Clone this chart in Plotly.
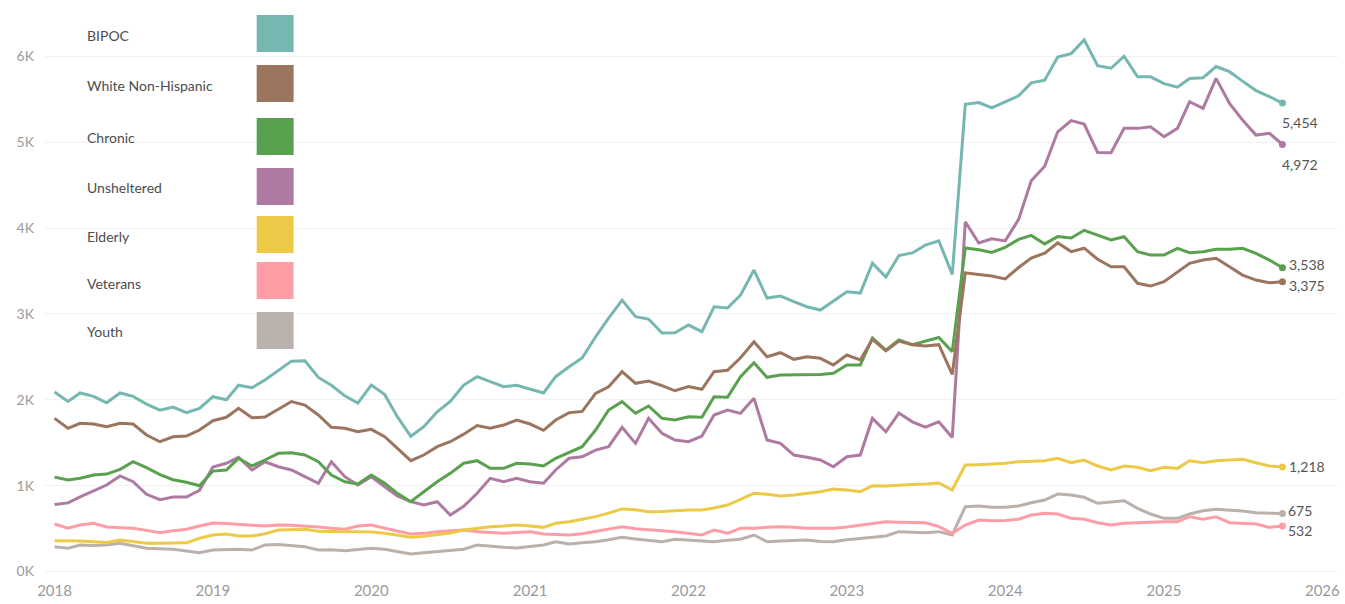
import pandas as pd
import plotly.graph_objects as go

# ---------------- data ----------------
months = pd.date_range("2018-01-01", "2025-10-01", freq="MS")

bipoc = [2090, 1980, 2080, 2040, 1965, 2080, 2040, 1950, 1880, 1915, 1850, 1900,
         2036, 2000, 2170, 2140, 2230, 2346, 2450, 2455, 2260, 2170, 2046, 1962,
         2172, 2060, 1803, 1575, 1687, 1861, 1980, 2172, 2269, 2211, 2152, 2170,
         2125, 2079, 2269, 2385, 2486, 2734, 2952, 3161, 2967, 2940, 2777, 2781,
         2870, 2793, 3083, 3068, 3220, 3511, 3185, 3208, 3142, 3083, 3045, 3153,
         3258, 3243, 3590, 3430, 3680, 3710, 3800, 3850, 3460, 5440, 5460, 5400,
         5470, 5540, 5690, 5720, 5990, 6030, 6190, 5890, 5860, 6000, 5760, 5760,
         5680, 5640, 5740, 5750, 5880, 5820, 5710, 5600, 5530, 5454]

white_non_hispanic = [1784, 1668, 1726, 1718, 1687, 1726, 1718, 1590, 1512, 1570, 1578, 1648,
                      1756, 1796, 1901, 1790, 1800, 1895, 1980, 1939, 1823, 1680, 1668, 1628,
                      1656, 1570, 1435, 1291, 1357, 1454, 1512, 1600, 1700, 1668, 1706, 1765,
                      1718, 1645, 1765, 1850, 1865, 2075, 2152, 2327, 2192, 2218, 2165, 2105,
                      2155, 2122, 2327, 2343, 2490, 2676, 2501, 2548, 2471, 2501, 2483, 2405,
                      2521, 2463, 2704, 2570, 2684, 2642, 2626, 2642, 2295, 3478, 3459, 3441,
                      3408, 3540, 3650, 3708, 3826, 3725, 3765, 3637, 3549, 3549, 3356, 3324,
                      3375, 3491, 3589, 3627, 3647, 3549, 3452, 3394, 3363, 3375]

chronic = [1100, 1066, 1086, 1124, 1135, 1190, 1279, 1210, 1130, 1070, 1040, 1000,
           1170, 1183, 1319, 1230, 1299, 1377, 1384, 1357, 1279, 1124, 1046, 1020,
           1124, 1028, 911, 814, 930, 1046, 1144, 1261, 1291, 1202, 1202, 1261,
           1252, 1229, 1319, 1384, 1454, 1648, 1881, 1978, 1843, 1928, 1784, 1765,
           1803, 1796, 2036, 2029, 2269, 2432, 2262, 2288, 2288, 2288, 2296, 2308,
           2405, 2405, 2720, 2579, 2696, 2642, 2684, 2725, 2561, 3767, 3746, 3715,
           3775, 3868, 3914, 3815, 3900, 3884, 3973, 3914, 3860, 3898, 3724, 3685,
           3685, 3763, 3712, 3724, 3752, 3752, 3763, 3705, 3627, 3538]

unsheltered = [780, 800, 870, 940, 1008, 1113, 1046, 900, 838, 868, 868, 946,
               1217, 1261, 1330, 1183, 1279, 1221, 1183, 1105, 1028, 1279, 1105, 1008,
               1105, 988, 880, 814, 775, 814, 659, 760, 911, 1086, 1046, 1086,
               1046, 1028, 1183, 1319, 1337, 1415, 1454, 1680, 1493, 1784, 1610, 1532,
               1512, 1578, 1823, 1881, 1842, 2017, 1532, 1493, 1357, 1330, 1299, 1221,
               1337, 1357, 1784, 1628, 1846, 1744, 1683, 1744, 1561, 4073, 3825, 3875,
               3850, 4100, 4550, 4720, 5120, 5250, 5210, 4880, 4876, 5160, 5160, 5179,
               5062, 5160, 5470, 5393, 5742, 5451, 5257, 5082, 5102, 4972]

elderly = [360, 360, 355, 348, 340, 368, 350, 329, 329, 329, 335, 388,
           426, 438, 414, 414, 440, 484, 490, 492, 470, 465, 465, 465,
           460, 446, 420, 399, 410, 426, 450, 484, 504, 523, 530, 542,
           530, 515, 562, 581, 609, 640, 680, 730, 720, 697, 700, 709,
           717, 717, 740, 775, 840, 911, 900, 880, 892, 911, 930, 960,
           950, 930, 1000, 996, 1008, 1015, 1020, 1031, 950, 1240, 1245, 1250,
           1260, 1279, 1285, 1291, 1319, 1268, 1299, 1229, 1183, 1229, 1214, 1175,
           1214, 1202, 1291, 1268, 1291, 1299, 1307, 1268, 1229, 1218]

veterans = [554, 504, 542, 562, 520, 510, 504, 480, 453, 475, 492, 530,
            565, 560, 554, 540, 531, 542, 540, 531, 520, 504, 492, 530,
            542, 504, 470, 438, 445, 465, 475, 484, 465, 455, 446, 455,
            465, 438, 430, 426, 440, 465, 495, 523, 500, 484, 475, 465,
            446, 426, 484, 446, 504, 504, 515, 523, 515, 504, 504, 504,
            520, 542, 560, 581, 575, 570, 569, 523, 446, 542, 600, 592,
            595, 609, 659, 678, 670, 620, 609, 569, 542, 562, 569, 569,
            581, 581, 639, 609, 639, 569, 562, 554, 515, 532]

youth = [290, 271, 310, 305, 310, 329, 300, 271, 265, 260, 240, 220,
         251, 255, 260, 251, 310, 315, 300, 290, 251, 255, 243, 255,
         271, 260, 235, 205, 220, 232, 245, 260, 310, 295, 283, 276,
         290, 310, 348, 321, 335, 348, 370, 399, 380, 368, 348, 376,
         368, 360, 348, 365, 376, 426, 348, 355, 360, 368, 350, 348,
         370, 388, 400, 414, 465, 460, 453, 465, 426, 756, 764, 748,
         748, 764, 802, 833, 903, 892, 865, 795, 814, 825, 737, 670,
         620, 620, 670, 709, 725, 717, 705, 686, 678, 675]

series_names = ["BIPOC", "White Non-Hispanic", "Chronic", "Unsheltered",
                "Elderly", "Veterans", "Youth"]
series_values = [bipoc, white_non_hispanic, chronic, unsheltered,
                 elderly, veterans, youth]
series_colors = ["#76b7b2", "#9c755f", "#59a14f", "#af7aa1",
                 "#edc948", "#ff9da7", "#bab0ac"]

y_tick_values = [0, 1000, 2000, 3000, 4000, 5000, 6000]
y_tick_labels = ["0K", "1K", "2K", "3K", "4K", "5K", "6K"]

# ---------------- layout geometry ----------------
W, H = 1345, 604
ML, MR, MT, MB = 45, 5, 10, 30
PW, PH = W - ML - MR, H - MT - MB


def px_x(px):
    return (px - ML) / PW


def px_y(py):
    return 1 - (py - MT) / PH


FONT = "Lato, 'Open Sans', sans-serif"

fig = go.Figure()

# draw in reverse so BIPOC sits on top
for name, vals, col in reversed(list(zip(series_names, series_values, series_colors))):
    fig.add_trace(go.Scatter(
        x=months, y=vals, mode="lines", name=name,
        line=dict(color=col, width=3),
        showlegend=False, hoverinfo="x+y+name",
    ))
    fig.add_trace(go.Scatter(
        x=[months[-1]], y=[vals[-1]], mode="markers",
        marker=dict(color=col, size=7),
        showlegend=False, hoverinfo="skip",
    ))

# end labels (x shift, y shift in px)
label_offsets = {
    "BIPOC": (-2, -19),
    "White Non-Hispanic": (5, -4),
    "Chronic": (5, 3),
    "Unsheltered": (-2, -20),
    "Elderly": (5, 0),
    "Veterans": (4, -5),
    "Youth": (4, 3),
}
for name, vals in zip(series_names, series_values):
    dx, dy = label_offsets[name]
    fig.add_annotation(
        x=months[-1], y=vals[-1], xref="x", yref="y",
        text=f"{vals[-1]:,}", showarrow=False,
        xanchor="left", yanchor="middle", xshift=dx, yshift=dy,
        font=dict(family=FONT, size=14, color="#555555"),
    )

# custom legend (text + square swatches)
legend_text_y = [35, 85, 137, 187, 236, 283, 331]
legend_swatch_y = [33.5, 83.5, 136.5, 186.5, 234.5, 280.5, 330.5]
for name, col, ty, sy in zip(series_names, series_colors, legend_text_y, legend_swatch_y):
    fig.add_annotation(
        x=px_x(85), y=px_y(ty), xref="paper", yref="paper",
        text=name, showarrow=False, xanchor="left", yanchor="middle",
        font=dict(family=FONT, size=14, color="#4d4d4d"),
    )
    fig.add_shape(
        type="rect", xref="paper", yref="paper",
        x0=px_x(257), x1=px_x(294), y0=px_y(sy + 18.5), y1=px_y(sy - 18.5),
        fillcolor=col, line=dict(width=0),
    )

fig.update_layout(
    width=W, height=H,
    margin=dict(l=ML, r=MR, t=MT, b=MB),
    paper_bgcolor="white", plot_bgcolor="white",
    font=dict(family=FONT, color="#999999"),
    showlegend=False,
)
fig.update_xaxes(
    range=["2017-12-10", "2026-02-06"],
    tick0="2018-01-01", dtick="M12", tickformat="%Y",
    showgrid=False, zeroline=False, showline=False,
    ticks="", ticklabelstandoff=6,
    tickfont=dict(family=FONT, size=15, color="#9a9a9a"),
)
fig.update_yaxes(
    range=[-28, 6538],
    tickvals=y_tick_values, ticktext=y_tick_labels,
    showgrid=True, gridcolor="#f1f1f1", gridwidth=1,
    zeroline=False, showline=False, ticks="", ticklabelstandoff=10,
    tickfont=dict(family=FONT, size=14, color="#9a9a9a"),
)

fig.write_html("out.html")
